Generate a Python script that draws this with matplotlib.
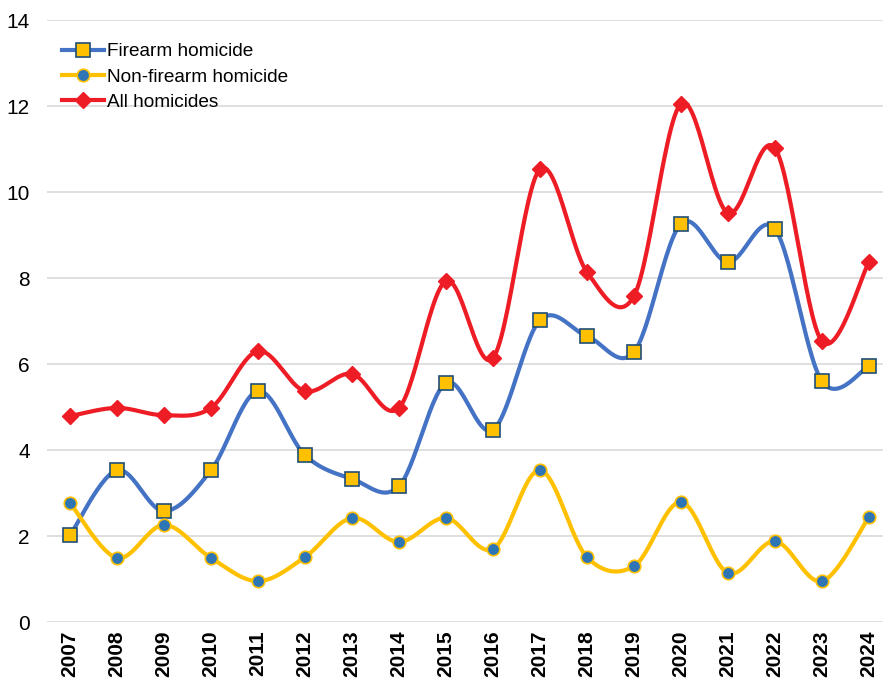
import numpy as np
import matplotlib.pyplot as plt
from matplotlib.lines import Line2D

plt.rcParams['font.family'] = ['Liberation Sans', 'DejaVu Sans']

years = ['2007', '2008', '2009', '2010', '2011', '2012', '2013', '2014', '2015',
         '2016', '2017', '2018', '2019', '2020', '2021', '2022', '2023', '2024']
firearm = [2.02, 3.53, 2.58, 3.53, 5.37, 3.88, 3.33, 3.16, 5.56,
           4.47, 7.02, 6.65, 6.28, 9.26, 8.37, 9.14, 5.60, 5.95]
non_firearm = [2.77, 1.49, 2.26, 1.49, 0.95, 1.51, 2.42, 1.86, 2.42,
               1.70, 3.53, 1.51, 1.30, 2.79, 1.14, 1.88, 0.95, 2.44]
all_homicides = [4.79, 4.98, 4.81, 4.98, 6.30, 5.37, 5.77, 4.98, 7.93,
                 6.14, 10.53, 8.14, 7.58, 12.05, 9.51, 11.02, 6.53, 8.37]


def smooth(y, n=30):
    # Excel-style smoothed line: cubic Bezier with Catmull-Rom control points
    y = np.asarray(y, dtype=float)
    x = np.arange(len(y), dtype=float)
    xs, ys = [], []
    for i in range(len(y) - 1):
        x0, x3 = x[i], x[i + 1]
        y0, y3 = y[i], y[i + 1]
        xp = x[i - 1] if i > 0 else x0
        yp = y[i - 1] if i > 0 else y0
        xn = x[i + 2] if i + 2 < len(y) else x3
        yn = y[i + 2] if i + 2 < len(y) else y3
        x1, y1 = x0 + (x3 - xp) / 6, y0 + (y3 - yp) / 6
        x2, y2 = x3 - (xn - x0) / 6, y3 - (yn - y0) / 6
        t = np.linspace(0, 1, n)
        a, b, c, d = (1 - t) ** 3, 3 * (1 - t) ** 2 * t, 3 * (1 - t) * t ** 2, t ** 3
        xs.append(a * x0 + b * x1 + c * x2 + d * x3)
        ys.append(a * y0 + b * y1 + c * y2 + d * y3)
    return np.concatenate(xs), np.concatenate(ys)


fig = plt.figure(figsize=(8.83, 6.81), dpi=100)
ax = fig.add_axes([0.0527, 0.0866, 0.9473, 0.884])

x = np.arange(len(years))
blue = '#4472C4'
gold = '#FFC000'
red = '#EE1C25'

series = [
    (firearm, blue, dict(marker='s', markersize=10, markerfacecolor=gold,
                         markeredgecolor='#1F4E79', markeredgewidth=1.2)),
    (non_firearm, gold, dict(marker='o', markersize=9, markerfacecolor='#2E75B6',
                             markeredgecolor=gold, markeredgewidth=1.2)),
    (all_homicides, red, dict(marker='D', markersize=8, markerfacecolor=red,
                              markeredgecolor=red, markeredgewidth=1)),
]

handles = []
for vals, col, mk in series:
    sx, sy = smooth(vals)
    ax.plot(sx, sy, color=col, lw=3, solid_capstyle='round', zorder=3, clip_on=False)
    ax.plot(x, vals, ls='none', zorder=4, clip_on=False, **mk)
    handles.append(Line2D([0], [0], color=col, lw=3, **mk))

labels = ['Firearm homicide', 'Non-firearm homicide', 'All homicides']
ax.legend(handles, labels, loc='upper left', bbox_to_anchor=(0.018, 0.962),
          frameon=False, fontsize=13.7, handlelength=2.25, handletextpad=0.15,
          labelspacing=0.42, borderaxespad=0, borderpad=0)

ax.set_xlim(-0.5, 17.3)
ax.set_ylim(0, 14)
ax.set_yticks(range(0, 15, 2))
ax.set_xticks(x)
ax.set_xticklabels(years, rotation=90, fontsize=15, fontweight='bold')
ax.tick_params(axis='y', labelsize=15, length=0, pad=12)
ax.tick_params(axis='x', length=0, pad=6)
ax.grid(axis='y', color='#D9D9D9', lw=1.2)
ax.set_axisbelow(True)
for s in ax.spines.values():
    s.set_visible(False)

fig.savefig('out.png', dpi=100)
